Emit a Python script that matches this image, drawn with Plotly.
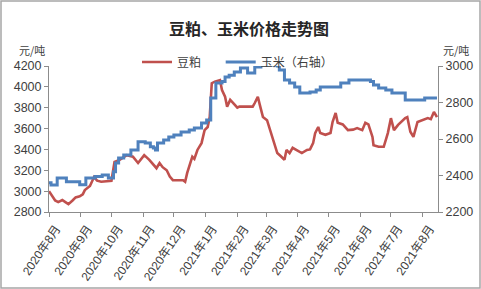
import plotly.graph_objects as go

# ---------------- data ----------------
soy_dates = ["2020-08-01","2020-08-04","2020-08-07","2020-08-10","2020-08-14","2020-08-17","2020-08-20",
             "2020-08-24","2020-08-27","2020-08-31","2020-09-03","2020-09-05","2020-09-10","2020-09-14",
             "2020-09-17","2020-09-21","2020-09-28","2020-10-01","2020-10-04","2020-10-09","2020-10-16",
             "2020-10-22","2020-10-27","2020-11-02","2020-11-07","2020-11-12","2020-11-14","2020-11-17",
             "2020-11-20","2020-11-24","2020-11-27","2020-11-30","2020-12-10","2020-12-12","2020-12-14",
             "2020-12-19","2020-12-21","2020-12-24","2020-12-28","2020-12-31","2021-01-03","2021-01-05",
             "2021-01-07","2021-01-10","2021-01-15","2021-01-17","2021-01-20","2021-01-22","2021-01-25",
             "2021-01-28","2021-02-01","2021-02-03","2021-02-16","2021-02-18","2021-02-21","2021-02-23",
             "2021-02-26","2021-03-02","2021-03-05","2021-03-08","2021-03-10","2021-03-12","2021-03-16",
             "2021-03-19","2021-03-21","2021-03-24","2021-03-27","2021-03-31","2021-04-05","2021-04-10",
             "2021-04-13","2021-04-16","2021-04-18","2021-04-21","2021-04-23","2021-04-28","2021-05-03",
             "2021-05-05","2021-05-08","2021-05-10","2021-05-15","2021-05-20","2021-05-25","2021-05-29",
             "2021-06-03","2021-06-06","2021-06-09","2021-06-13","2021-06-14","2021-06-19","2021-06-24",
             "2021-06-28","2021-07-01","2021-07-04","2021-07-08","2021-07-15","2021-07-17","2021-07-20",
             "2021-07-23","2021-07-27","2021-08-01","2021-08-06","2021-08-09","2021-08-12","2021-08-15"]
soy_values = [3000,2960,2910,2895,2915,2895,2875,
              2910,2940,2950,2970,3010,3050,3135,
              3100,3090,3095,3100,3280,3300,3345,
              3330,3270,3345,3300,3250,3220,3270,
              3230,3200,3140,3105,3105,3090,3175,
              3330,3310,3395,3460,3585,3615,3710,
              4035,4050,4065,3970,3905,3810,3875,
              3845,3800,3810,3810,3845,3905,3825,
              3710,3680,3585,3490,3425,3365,3330,
              3300,3395,3365,3415,3395,3365,3395,
              3400,3460,3557,3615,3557,3540,3557,
              3663,3750,3655,3640,3585,3590,3605,
              3585,3655,3640,3520,3440,3425,3425,
              3557,3700,3585,3635,3700,3710,3570,
              3520,3663,3680,3700,3690,3760,3710]

corn_dates = ["2020-08-01","2020-08-03","2020-08-09","2020-08-18","2020-08-31","2020-09-06","2020-09-15",
              "2020-09-22","2020-09-28","2020-10-03","2020-10-05","2020-10-08","2020-10-13","2020-10-20",
              "2020-10-27","2020-11-03","2020-11-08","2020-11-11","2020-11-13","2020-11-15","2020-11-21",
              "2020-11-26","2020-12-01","2020-12-08","2020-12-16","2020-12-21","2020-12-28","2021-01-02",
              "2021-01-06","2021-01-11","2021-01-17","2021-01-20","2021-01-24","2021-01-29","2021-02-04",
              "2021-02-11","2021-02-18","2021-02-24","2021-03-12","2021-03-14","2021-03-19","2021-03-24",
              "2021-03-29","2021-04-03","2021-04-13","2021-04-19","2021-04-23","2021-05-13","2021-05-21",
              "2021-06-11","2021-06-14","2021-06-19","2021-06-26","2021-07-02","2021-07-15","2021-08-03",
              "2021-08-15"]
corn_values = [2360,2348,2386,2366,2350,2386,2395,
               2403,2386,2421,2468,2496,2512,2540,
               2585,2578,2558,2551,2540,2578,2594,
               2611,2622,2638,2649,2660,2688,2704,
               2825,2907,2915,2940,2950,2967,2989,
               2961,2995,3005,3000,2978,2923,2907,
               2885,2852,2857,2868,2885,2907,2923,
               2915,2896,2879,2868,2852,2814,2825,
               2825]

month_ticks = ["2020-08-01","2020-09-01","2020-10-01","2020-11-01","2020-12-01","2021-01-01","2021-02-01",
               "2021-03-01","2021-04-01","2021-05-01","2021-06-01","2021-07-01","2021-08-01"]
month_labels = ["2020年8月","2020年9月","2020年10月","2020年11月","2020年12月","2021年1月","2021年2月",
                "2021年3月","2021年4月","2021年5月","2021年6月","2021年7月","2021年8月"]

left_ticks = [2800, 3000, 3200, 3400, 3600, 3800, 4000, 4200]
right_ticks = [2200, 2400, 2600, 2800, 3000]

# ---------------- figure ----------------
W, H = 481, 289
L, R, T, B = 49, 43, 66, 77
pw, ph = W - L - R, H - T - B

fig = go.Figure()
fig.add_trace(go.Scatter(x=soy_dates, y=soy_values, name="豆粕\u2003\u00a0", mode="lines",
                         line=dict(color="#C0504D", width=2.6), yaxis="y"))
fig.add_trace(go.Scatter(x=corn_dates, y=corn_values, name="玉米（右轴）", mode="lines",
                         line=dict(color="#4F81BD", width=3, shape="hv"), yaxis="y2"))

axis_font = dict(family="Liberation Sans, Noto Sans CJK SC, sans-serif", size=12.5, color="#404040")

fig.update_layout(
    width=W, height=H,
    margin=dict(l=L, r=R, t=T, b=B, autoexpand=False),
    paper_bgcolor="white", plot_bgcolor="white",
    showlegend=True,
    legend=dict(orientation="h", xref="container", yref="container",
                x=137 / W, y=1 - 62 / H, xanchor="left", yanchor="middle",
                font=dict(family="Noto Sans CJK SC, sans-serif", size=12, color="#404040"),
                bgcolor="rgba(0,0,0,0)", itemwidth=30, tracegroupgap=0),
    xaxis=dict(type="date", range=["2020-08-01", "2021-08-16"], automargin=False,
               tickvals=month_ticks, ticktext=month_labels, tickangle=-56,
               ticklabelshift=7, ticklabelstandoff=0,
               showgrid=False, zeroline=False, showline=True, linecolor="#8c8c8c", linewidth=1,
               ticks="outside", ticklen=4, tickcolor="#8c8c8c",
               tickfont=dict(family="Liberation Sans, Noto Sans CJK SC, sans-serif", size=12, color="#404040")),
    yaxis=dict(range=[2800, 4200], tickvals=left_ticks, showgrid=False, zeroline=False, automargin=False,
               showline=True, linecolor="#8c8c8c", linewidth=1, ticks="outside", ticklen=4,
               tickcolor="#8c8c8c", tickfont=axis_font),
    yaxis2=dict(range=[2200, 3000], tickvals=right_ticks, overlaying="y", side="right", automargin=False,
                showgrid=False, zeroline=False, showline=True, linecolor="#8c8c8c", linewidth=1,
                ticks="outside", ticklen=4, tickcolor="#8c8c8c", tickfont=axis_font),
)

fig.add_annotation(text="<b>豆粕、玉米价格走势图</b>", xref="paper", yref="paper",
                   x=(249 - L) / pw, y=(212 - 28) / ph, xanchor="center", yanchor="middle",
                   showarrow=False, font=dict(family="Noto Sans CJK SC, sans-serif", size=16, color="#262626"))
fig.add_annotation(text="元/吨", xref="paper", yref="paper",
                   x=(32 - L) / pw, y=(212 - 50) / ph, xanchor="center", yanchor="middle",
                   showarrow=False, font=dict(family="Noto Sans CJK SC, sans-serif", size=11, color="#404040"))
fig.add_annotation(text="元/吨", xref="paper", yref="paper",
                   x=(456 - L) / pw, y=(212 - 50) / ph, xanchor="center", yanchor="middle",
                   showarrow=False, font=dict(family="Noto Sans CJK SC, sans-serif", size=11, color="#404040"))

# outer frame
fig.add_shape(type="rect", xref="paper", yref="paper",
              x0=(1 - L) / pw, x1=(W - 1 - L) / pw, y0=(212 - (H - 1)) / ph, y1=(212 - 1) / ph,
              line=dict(color="#a6a6a6", width=1.5), fillcolor="rgba(0,0,0,0)", layer="below")

fig.write_html("out.html", config={"displayModeBar": False},
               post_script="document.body.style.margin='0';")
